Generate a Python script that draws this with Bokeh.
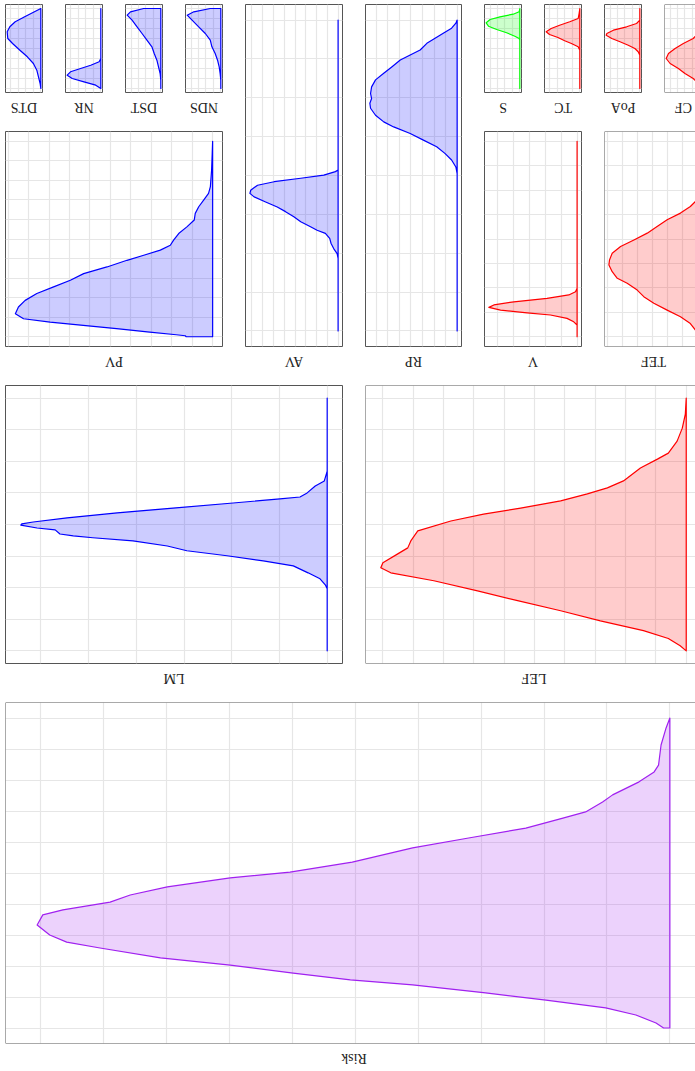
from math import pi
from bokeh.plotting import figure
from bokeh.layouts import row, column
from bokeh.models import Range1d, SingleIntervalTicker, Span
from bokeh.core.properties import value
from bokeh.embed import file_html
from bokeh.resources import INLINE

# ---- data: position on the value axis (grid units) and density (grid units) ----
risk_level = [0, 0.32, 0.87, 1.52, 1.74, 2.06, 2.48, 2.71, 3.03, 3.23, 3.55, 3.87, 4.19, 4.65, 4.97, 5.16,
              5.45, 5.71, 5.94, 6.19, 6.35, 6.68, 7.0, 7.23, 7.42, 7.74, 7.97, 8.23, 8.45, 8.61, 8.87, 9.10,
              9.35, 9.58, 9.84, 10.0, 10.0]
risk_density = [0, 0.06, 0.14, 0.18, 0.25, 0.49, 0.91, 1.07, 1.34, 1.70, 2.29, 3.20, 4.09, 5.05, 6.04, 6.99,
                7.99, 8.58, 8.90, 9.65, 9.97, 10.06, 9.86, 9.59, 9.06, 8.10, 6.99, 5.99, 5.08, 4.09, 2.93, 1.97,
                1.02, 0.54, 0.22, 0.10, 0]

lm_level = [0, 2.31, 2.62, 2.78, 3.0, 3.13, 3.19, 3.32, 3.48, 3.63, 3.79, 3.92, 3.98, 4.02, 4.11, 4.17, 4.30,
            4.36, 4.42, 4.52, 4.68, 4.83, 4.99, 5.15, 5.31, 5.53, 5.72, 5.91, 6.03, 8.0]
lm_density = [0, 0, 0.06, 0.25, 0.42, 0.57, 0.99, 1.97, 3.23, 4.40, 5.45, 6.16, 6.40, 6.42, 6.08, 5.70, 5.60,
              5.32, 4.91, 4.07, 3.35, 2.94, 2.10, 1.34, 0.71, 0.40, 0.15, 0.04, 0, 0]

lef_level = [0, 0.51, 0.95, 1.36, 1.74, 1.93, 2.21, 2.53, 2.62, 2.84, 3.03, 3.25, 3.48, 3.67, 3.89, 4.20, 4.52,
             4.74, 4.93, 5.21, 5.37, 5.53, 5.78, 6.10, 6.41, 6.73, 7.05, 7.36, 7.61, 7.84, 8.0]
lef_density = [0, 0.03, 0.13, 0.30, 0.59, 0.95, 1.51, 1.94, 2.07, 2.60, 3.26, 4.14, 5.46, 6.68, 7.76, 8.85, 9.08,
               9.18, 9.51, 10.0, 10.07, 9.74, 8.32, 6.88, 5.56, 4.14, 2.83, 1.41, 0.59, 0.20, 0]

pv_level = [0, 0.62, 1.47, 2.32, 2.67, 3.01, 3.35, 3.69, 4.03, 4.38, 4.72, 5.06, 5.32, 5.57, 5.83, 6.09, 6.43,
            6.77, 7.11, 7.45, 7.79, 8.14, 8.48, 8.82, 9.08, 9.25, 9.42, 9.59, 9.76, 9.90, 9.95, 10.0, 10.0]
pv_density = [0, 0.02, 0.05, 0.11, 0.20, 0.44, 0.68, 0.85, 0.90, 1.26, 1.66, 1.91, 2.07, 2.56, 3.37, 4.19, 5.17,
              6.31, 6.96, 7.78, 8.60, 9.17, 9.50, 9.65, 9.25, 7.95, 6.33, 4.70, 3.08, 1.78, 1.34, 1.30, 0]

av_level = [0, 3.86, 3.90, 3.99, 4.07, 4.16, 4.25, 4.38, 4.46, 4.55, 4.68, 4.81, 4.93, 5.06, 5.19, 5.32, 5.41,
            5.49, 5.62, 5.75, 5.88, 6.01, 6.13, 8.0]
av_density = [0, 0, 0.25, 1.33, 3.47, 5.94, 7.48, 8.12, 8.19, 7.80, 6.73, 5.65, 4.88, 4.11, 3.47, 2.56, 1.95,
              1.18, 0.78, 0.65, 0.41, 0.09, 0, 0]

rp_level = [0, 0.08, 0.21, 0.34, 0.47, 0.60, 0.77, 0.90, 1.03, 1.20, 1.37, 1.54, 1.72, 1.89, 2.02, 2.14, 2.27,
            2.45, 2.62, 2.75, 2.92, 3.09, 3.26, 3.43, 3.60, 3.78, 3.95, 8.0]
rp_density = [0, 0.11, 0.48, 1.20, 1.91, 2.62, 3.20, 4.06, 4.92, 5.63, 6.35, 7.06, 7.40, 7.49, 7.40, 7.55, 7.49,
              7.06, 6.35, 5.49, 4.06, 2.92, 1.77, 1.06, 0.48, 0.11, 0, 0]

v_level = [0, 6.02, 6.16, 6.29, 6.43, 6.57, 6.70, 6.80, 6.91, 7.02, 7.11, 7.25, 7.39, 7.52, 8.0]
v_density = [0, 0, 0.10, 0.52, 1.88, 3.96, 5.21, 5.52, 4.79, 3.13, 1.67, 0.63, 0.21, 0, 0]

tef_level = [0, 2.12, 2.46, 2.67, 2.94, 3.21, 3.49, 3.76, 4.04, 4.31, 4.58, 4.86, 5.06, 5.34, 5.61, 5.81, 6.09,
             6.36, 6.63, 6.91, 7.18, 7.46, 7.73, 7.93, 8.0]
tef_density = [0, 0, 0.11, 0.45, 1.11, 2.0, 2.67, 3.33, 4.22, 5.11, 5.67, 5.85, 5.89, 5.67, 5.33, 4.67, 4.0,
               3.56, 2.89, 2.0, 1.11, 0.45, 0.11, 0, 0]

dts_level = [0, 0.33, 0.83, 1.33, 1.83, 2.33, 3.0, 3.5, 4.17, 4.83, 5.5, 6.17, 6.83, 7.5, 8.0]
dts_density = [0, 0.84, 2.13, 3.38, 4.09, 4.44, 4.36, 3.73, 2.76, 1.78, 0.98, 0.53, 0.31, 0.09, 0]

nr_level = [0, 5.0, 5.33, 5.67, 6.0, 6.33, 6.67, 7.0, 7.33, 7.67, 8.0]
nr_density = [0, 0, 0.22, 1.33, 2.67, 4.0, 4.44, 3.78, 2.22, 0.67, 0]

dst_level = [0, 0, 0.33, 0.67, 1.17, 1.83, 2.5, 3.17, 3.83, 4.5, 5.17, 5.83, 6.5, 7.17, 8.0]
dst_density = [0, 2.31, 4.09, 4.53, 3.87, 3.20, 2.53, 1.87, 1.20, 0.89, 0.53, 0.31, 0.09, 0, 0]

nds_level = [0, 0, 0.33, 0.67, 1.17, 1.83, 2.5, 3.17, 3.83, 4.5, 5.17, 5.83, 6.5, 7.17, 8.0]
nds_density = [0, 1.42, 3.64, 4.53, 3.87, 2.98, 2.09, 1.42, 1.20, 0.76, 0.44, 0.22, 0.09, 0, 0]

s_level = [0, 0.33, 0.57, 0.83, 1.1, 1.43, 1.77, 2.1, 2.43, 2.77, 3.0, 3.17, 8.0]
s_density = [0, 0.09, 0.89, 2.67, 4.0, 4.53, 4.22, 3.11, 1.78, 0.67, 0.09, 0, 0]

tc_level = [0, 0.5, 1.0, 1.33, 1.67, 2.0, 2.33, 2.6, 2.9, 3.23, 3.5, 3.83, 4.17, 8.0]
tc_density = [0, 0.09, 0.22, 1.33, 2.67, 3.78, 4.44, 4.0, 2.89, 2.0, 1.11, 0.22, 0, 0]

poa_level = [0, 1.17, 1.5, 1.83, 2.17, 2.5, 2.67, 3.0, 3.33, 3.67, 4.0, 4.33, 4.67, 8.0]
poa_density = [0, 0, 0.44, 1.78, 3.56, 4.44, 4.53, 3.78, 2.67, 1.56, 0.67, 0.22, 0, 0]

cf_level = [0, 2.33, 3.0, 3.5, 4.0, 4.5, 5.0, 5.5, 6.0, 6.5, 7.0, 7.5, 8.0]
cf_density = [0, 0, 0.89, 2.22, 3.33, 4.22, 4.53, 4.0, 2.89, 2.0, 0.89, 0.2, 0]

BLUE, RED, GREEN, PURPLE = "#0000ff", "#ff0000", "#00ff00", "#a020f0"
GRID = "#e6e6e6"
FRAME = "#555555"


def panel(name, level, density, color, frame_w, frame_h, vis_w=None, bottom=38):
    vis_w = vis_w or frame_w
    cut = vis_w < frame_w
    dmax = max(density)
    x0, x1 = dmax * 1.05, -0.05 * dmax
    x1v = x0 + (x1 - x0) * vis_w / frame_w
    vmin, vmax = min(level), max(level)
    sp = vmax - vmin
    y0, y1 = vmax + 0.05 * sp, vmin - 0.05 * sp
    w = 1 + vis_w + (0 if cut else 1)
    p = figure(width=w, height=frame_h + 2,
               x_range=Range1d(x0, x1v), y_range=Range1d(y0, y1),
               output_backend="svg", toolbar_location=None, title=None,
               x_axis_location=None, y_axis_location=None,
               min_border_left=1, min_border_right=0 if cut else 1,
               min_border_top=1, min_border_bottom=1)
    p.xgrid.ticker = SingleIntervalTicker(interval=1, num_minor_ticks=0)
    p.ygrid.ticker = SingleIntervalTicker(interval=1, num_minor_ticks=0)
    p.grid.grid_line_color = GRID
    p.grid.grid_line_width = 1.2
    p.background_fill_color = "white"
    p.border_fill_color = "white"
    if cut:
        p.outline_line_color = None
        for loc, dim in ((y0, "width"), (y1, "width"), (x0, "height")):
            p.add_layout(Span(location=loc, dimension=dim, line_color=FRAME, line_width=1))
    else:
        p.outline_line_color = FRAME
        p.outline_line_width = 1
        p.outline_line_alpha = 1
    p.patch(x=density, y=level, fill_color=color, fill_alpha=0.2,
            line_color=color, line_width=1.2, line_join="round")

    # label strip below the panel (text turned upside down)
    lh = bottom - 1
    lab = figure(width=w, height=lh, x_range=Range1d(0, w), y_range=Range1d(0, lh),
                 output_backend="svg", toolbar_location=None, title=None,
                 x_axis_location=None, y_axis_location=None, min_border=0)
    lab.grid.visible = False
    lab.outline_line_color = None
    lab.background_fill_color = "white"
    lab.border_fill_color = "white"
    lab.text(x=[1 + frame_w / 2], y=[lh - 13.5], text=[name], angle=pi,
             text_align="center", text_baseline="middle",
             text_font=value("Liberation Serif"), text_font_size="14px", text_color="#222222")
    return column(p, lab, spacing=0)


small = dict(frame_w=37, frame_h=88)
p_dts = panel("DTS", dts_level, dts_density, BLUE, **small)
p_nr = panel("NR", nr_level, nr_density, BLUE, **small)
p_dst = panel("DST", dst_level, dst_density, BLUE, **small)
p_nds = panel("NDS", nds_level, nds_density, BLUE, **small)
p_pv = panel("PV", pv_level, pv_density, BLUE, 217, 215)
p_av = panel("AV", av_level, av_density, BLUE, 97, 342)
p_rp = panel("RP", rp_level, rp_density, BLUE, 96, 342)
p_s = panel("S", s_level, s_density, GREEN, **small)
p_tc = panel("TC", tc_level, tc_density, RED, **small)
p_poa = panel("PoA", poa_level, poa_density, RED, **small)
p_cf = panel("CF", cf_level, cf_density, RED, 37, 88, vis_w=31)
p_v = panel("V", v_level, v_density, RED, 97, 215)
p_tef = panel("TEF", tef_level, tef_density, RED, 97, 215, vis_w=91)
p_lm = panel("LM", lm_level, lm_density, BLUE, 337, 278)
p_lef = panel("LEF", lef_level, lef_density, RED, 336, 278, vis_w=330)
p_risk = panel("Risk", risk_level, risk_density, PURPLE, 696, 341, vis_w=690, bottom=25)

col_a = column(row(p_dts, p_nr, p_dst, p_nds, spacing=21), p_pv, spacing=0)
col_d = column(row(p_s, p_tc, p_poa, p_cf, spacing=21), row(p_v, p_tef, spacing=21), spacing=0)
top = row(col_a, p_av, p_rp, col_d, spacing=21)
mid = row(p_lm, p_lef, spacing=21)
root = column(top, mid, p_risk, spacing=0,
              styles={"margin-left": "4px", "margin-top": "3px"})

open("out.html", "w").write(file_html(root, INLINE))
